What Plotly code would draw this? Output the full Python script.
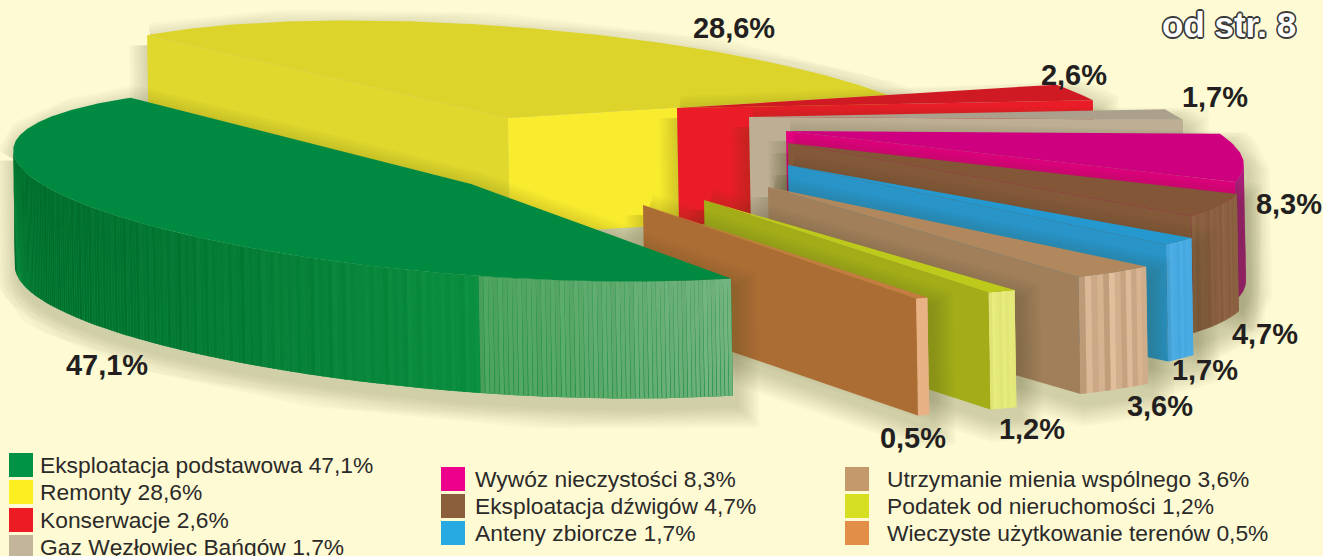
import math
import plotly.graph_objects as go

# ---------- data ----------
categories = ["Eksploatacja podstawowa", "Remonty", "Konserwacje", "Gaz Węzłowiec Bańgów",
              "Wywóz nieczystości", "Eksploatacja dźwigów", "Anteny zbiorcze",
              "Utrzymanie mienia wspólnego", "Podatek od nieruchomości",
              "Wieczyste użytkowanie terenów"]
values = [47.1, 28.6, 2.6, 1.7, 8.3, 4.7, 1.7, 3.6, 1.2, 0.5]

# ---------- styles ----------
top_colors = ["#008a41", "#dcd42a", "#cf1a24", "#aba08c", "#cf007f", "#825637", "#2598cf", "#b1885e", "#bdc91b", "#c47c42"]
front_colors = [None, "#f9ec2f", "#e91c27", "#bdae94", "#e2007f", "#835939", "#2894c8", "#a17f5b", "#a3ad18", "#ac6d35"]
wall_colors = ["#0a8a3c", "#dcd42a", "#d01a24", "#bdae94", "#a81f7a", "#8a6040", "#49aae2", "#d0ad8a", "#e3e879", "#e8b184"]
swatch_colors = ["#009345", "#fcee21", "#ed1c24", "#c2b59b", "#ec008c", "#8b5e3c", "#27aae1", "#c49a6c", "#d7df23", "#e28e48"]
streak_scale = [0.33, 1, 1, 1, 0.3, 0.4, 0.4, 1.5, 0.4, 0.3]
BG = "#fefad4"

# ---------- pie geometry: sheared disc, every slice pushed out by its own explode ----------
CENTER = (471, 184)
AX, AY = -335, -87      # disc axis at angle 0
BX, BY = 312, -44       # disc axis at angle 90
DEPTH = (2, 117)
explode_dx = [0, 37, 206, 278, 315, 317, 317, 297, 233, 172]
explode_dy = [0, -66, -76, -67, -53, -41, -19, 3, 16, 21]
start_tweak_deg = [2, -5, 0, 0, 0, 0, 0, 0, 0, 0]
end_tweak_deg = [-1, 0, 0, 0, 0, 0, 0, 0, 0, 0]

# the sweep on the disc starts at the Remonty slice
sweep = [1, 2, 3, 4, 5, 6, 7, 8, 9, 0]
angles = {}
cum = 0.0
total = sum(values)
for i in sweep:
    start = cum / total * 2 * math.pi + math.radians(start_tweak_deg[i])
    cum += values[i]
    angles[i] = (start, cum / total * 2 * math.pi + math.radians(end_tweak_deg[i]))


def rim(i, t):
    return (CENTER[0] + explode_dx[i] + AX * math.cos(t) + BX * math.sin(t),
            CENTER[1] + explode_dy[i] + AY * math.cos(t) + BY * math.sin(t))


def apex(i):
    return (CENTER[0] + explode_dx[i], CENTER[1] + explode_dy[i])


def down(p):
    return (p[0] + DEPTH[0], p[1] + DEPTH[1])


def hull(pts):
    pts = sorted(set(pts))
    def cross(o, a, b):
        return (a[0]-o[0])*(b[1]-o[1]) - (a[1]-o[1])*(b[0]-o[0])
    lo, up = [], []
    for p in pts:
        while len(lo) >= 2 and cross(lo[-2], lo[-1], p) <= 0:
            lo.pop()
        lo.append(p)
    for p in reversed(pts):
        while len(up) >= 2 and cross(up[-2], up[-1], p) <= 0:
            up.pop()
        up.append(p)
    return lo[:-1] + up[:-1]


def hex2rgb(c):
    return tuple(int(c[k:k+2], 16) for k in (1, 3, 5))


def mix(c1, c2, f):
    a, b = hex2rgb(c1), hex2rgb(c2)
    return "#%02x%02x%02x" % tuple(max(0, min(255, round(a[k] + (b[k]-a[k])*f))) for k in range(3))


def shade(c, d):
    a = hex2rgb(c)
    return "#%02x%02x%02x" % tuple(max(0, min(255, round(v + d))) for v in a)


fig = go.Figure()


def poly(pts, color, opacity=None, lw=0):
    xs = [p[0] for p in pts] + [pts[0][0]]
    ys = [p[1] for p in pts] + [pts[0][1]]
    tr = go.Scatter(x=xs, y=ys, mode="lines", fill="toself", fillcolor=color,
                    line=dict(color=color, width=lw), hoverinfo="skip", showlegend=False)
    if opacity is not None:
        tr.opacity = opacity
    fig.add_trace(tr)


streak = [0, 5, -4, 9, -7, 2, 12, -10, 4, -3, 8, -12, 1, 6, -6, 10]
draw_order = [1, 2, 3, 4, 5, 6, 7, 8, 9, 0]

for i in draw_order:
    t0, t1 = angles[i]
    step = math.radians(0.6 if i == 0 else 1.0)
    n = max(8, int((t1 - t0) / step))
    arc = [rim(i, t0 + (t1 - t0) * k / n) for k in range(n + 1)]
    a = apex(i)
    top = [a] + arc

    # soft shadow around the silhouette
    sil = hull(top + [down(p) for p in top])
    sh = [(p[0] + 4, p[1] + 10) for p in sil]
    for w in range(4, 48, 5):
        poly(sh, "#45451c", opacity=0.023, lw=w)

    # outer wall: only the part of the rim facing the viewer, one strip per step
    base = wall_colors[i]
    front = [k for k in range(n) if arc[k + 1][0] < arc[k][0]]
    if front:
        vis = arc[front[0]:front[-1] + 2]
        poly(vis + [down(p) for p in reversed(vis)], base)
    for k in front:
        p, q = arc[k], arc[k + 1]
        s = streak[k % len(streak)] * streak_scale[i]
        if i == 0:
            mx = (p[0] + q[0]) / 2
            if mx < 477:
                col = mix("#006c2d", "#0b8f40", max(0, mx - 40) / 437)
            else:
                col = mix("#4ba25c", "#74b37f", (mx - 477) / 259)
            col = shade(col, s)
        else:
            col = shade(base, s)
        poly([p, q, (down(q)[0] + 0.3, down(q)[1]), (down(p)[0] - 0.3, down(p)[1])], col)

    # cut faces
    if i == 1:
        p = arc[0]
        poly([a, p, down(p), down(a)], "#e0d82d")
    if i != 0:
        p = arc[-1]
        poly([a, p, down(p), down(a)], front_colors[i])

    # top
    poly(top, top_colors[i])

# ---------- value labels ----------
label_x = [107, 734, 1074, 1215, 1289, 1265, 1205, 1160, 1032, 913]
label_y = [368, 31, 78, 100, 207, 337, 373, 409, 432, 441]
pct = [f"{v:.1f}%".replace(".", ",") for v in values]
fig.add_trace(go.Scatter(x=label_x, y=label_y, mode="text", text=pct, hoverinfo="skip", showlegend=False,
                         textposition="middle center",
                         textfont=dict(family="Liberation Sans", size=29, color="#231f20", weight="bold")))

# ---------- legend ----------
swatch_x = [21, 21, 21, 21, 453, 453, 453, 857, 857, 857]
swatch_y = [465, 492, 520, 547, 479, 506, 533, 479, 506, 533]
text_x = [40, 40, 40, 40, 475, 475, 475, 887, 887, 887]
text_y = [y + 2 for y in swatch_y]
fig.add_trace(go.Scatter(x=swatch_x, y=swatch_y, mode="markers", hoverinfo="skip", showlegend=False,
                         marker=dict(symbol="square", size=24, color=swatch_colors, line=dict(width=0))))
fig.add_trace(go.Scatter(x=text_x, y=text_y, mode="text", hoverinfo="skip", showlegend=False,
                         text=[f"{c} {p}" for c, p in zip(categories, pct)],
                         textposition="middle right",
                         textfont=dict(family="Liberation Sans", size=22.8, color="#2b2a29")))

outline = ",".join(f"{dx}px {dy}px 0 #3a3a3a" for dx, dy in
                   [(-1.6, 0), (1.6, 0), (0, -1.6), (0, 1.6), (-1.2, -1.2), (1.2, -1.2), (-1.2, 1.2), (1.2, 1.2)])
fig.add_annotation(x=1298, y=24, text="od str. 8", showarrow=False, xanchor="right", yanchor="middle",
                   font=dict(family="Liberation Sans", size=35, color="white", weight="bold", shadow=outline))

fig.update_layout(width=1323, height=556, margin=dict(l=0, r=0, t=0, b=0),
                  paper_bgcolor=BG, plot_bgcolor=BG, showlegend=False,
                  xaxis=dict(range=[0, 1323], visible=False, fixedrange=True),
                  yaxis=dict(range=[556, 0], visible=False, fixedrange=True))
fig.write_html("out.html", config={"displayModeBar": False},
               post_script="document.body.style.margin='0';document.body.style.overflow='hidden';")
